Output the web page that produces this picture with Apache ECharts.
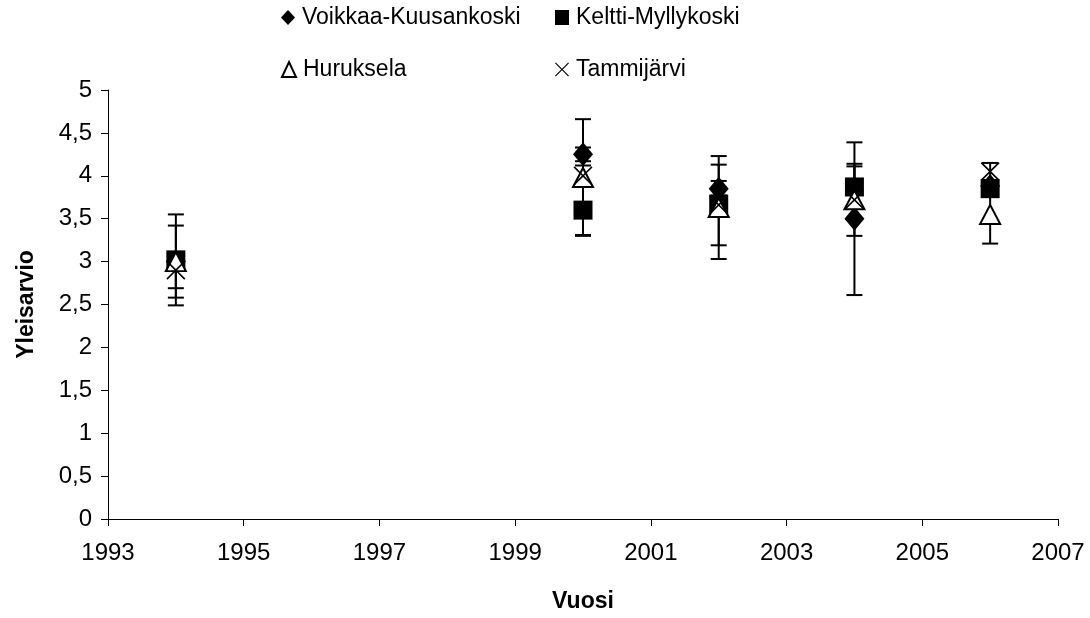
<!DOCTYPE html>
<html><head><meta charset="utf-8">
<script src="https://cdn.jsdelivr.net/npm/echarts@6/dist/echarts.min.js"></script>
<style>html,body{margin:0;padding:0;background:#fff}#c{width:1090px;height:618px}</style>
</head><body><div id="c"></div>
<script>
const years = [1994, 2000, 2002, 2004, 2006];
const xTicks = [1993, 1995, 1997, 1999, 2001, 2003, 2005, 2007];
const seriesNames = ['Voikkaa-Kuusankoski', 'Keltti-Myllykoski', 'Huruksela', 'Tammijärvi'];
const voikkaa = [3.0, 4.25, 3.85, 3.5, 3.88];
const voikkaaErr = [0.1, 0.08, 0.09, 0.89, 0.05];
const keltti = [3.02, 3.6, 3.67, 3.87, 3.85];
const kelttiErr = [0.53, 0.29, 0.1, 0.24, 0.08];
const huruksela = [3.0, 3.98, 3.63, 3.72, 3.55];
const hurukselaErr = [0.42, 0.68, 0.6, 0.42, 0.34];
const tammijarvi = [2.9, 4.0, 3.66, 3.72, 4.05];
const tammijarviErr = [0.21, 0.12, 0.47, 0.1, 0.1];

const FONT = '"Liberation Sans", Arial, sans-serif';
const X_PATH = 'path://M0,6L6,0L50,44L94,0L100,6L56,50L100,94L94,100L50,56L6,100L0,94L44,50Z';

function pts(vals) { return years.map((y, i) => [y, vals[i]]); }
function errData(vals, errs) { return years.map((y, i) => [y, vals[i] - errs[i], vals[i] + errs[i]]); }

function errSeries(vals, errs) {
  return {
    type: 'custom', z: 1, silent: true, animation: false,
    data: errData(vals, errs),
    renderItem: function (params, api) {
      const x = api.value(0);
      const lo = api.coord([x, api.value(1)]);
      const hi = api.coord([x, api.value(2)]);
      const hw = 8;
      const st = { stroke: '#000', lineWidth: 2 };
      return { type: 'group', children: [
        { type: 'line', shape: { x1: lo[0], y1: lo[1], x2: hi[0], y2: hi[1] }, style: st },
        { type: 'line', shape: { x1: lo[0] - hw, y1: lo[1], x2: lo[0] + hw, y2: lo[1] }, style: st },
        { type: 'line', shape: { x1: hi[0] - hw, y1: hi[1], x2: hi[0] + hw, y2: hi[1] }, style: st }
      ]};
    }
  };
}

function scatter(name, vals, symbol, size, style, z) {
  return {
    type: 'scatter', name: name, z: z, symbol: symbol, symbolSize: size,
    data: pts(vals), itemStyle: Object.assign({ opacity: 1 }, style),
    emphasis: { disabled: true }, animation: false
  };
}

const chart = echarts.init(document.getElementById('c'));
const legendBase = {
  itemWidth: 14, itemHeight: 15, itemGap: 0, padding: 0, selectedMode: false,
  textStyle: { fontFamily: FONT, fontSize: 23, color: '#000', padding: [0, 0, 0, 2] }
};
chart.setOption({
  backgroundColor: '#fff',
  animation: false,
  legend: [
    Object.assign({ data: [seriesNames[0]], left: 281, top: 6 }, legendBase),
    Object.assign({ data: [seriesNames[1]], left: 555, top: 6 }, legendBase),
    Object.assign({ data: [seriesNames[2]], left: 281, top: 58 }, legendBase),
    Object.assign({ data: [seriesNames[3]], left: 555, top: 58 }, legendBase)
  ],
  grid: { left: 108, right: 32, top: 90, bottom: 95 },
  xAxis: {
    type: 'value', min: 1993, max: 2007,
    name: 'Vuosi', nameLocation: 'middle', nameGap: 71,
    nameTextStyle: { fontFamily: FONT, fontSize: 23, fontWeight: 'bold', color: '#000' },
    axisLine: { show: true, onZero: false, lineStyle: { color: '#000', width: 1 } },
    axisTick: { show: true, length: 7, customValues: xTicks, lineStyle: { color: '#000' } },
    axisLabel: { customValues: xTicks, fontFamily: FONT, fontSize: 24, color: '#000', margin: 22,
      formatter: v => String(v) },
    splitLine: { show: false }
  },
  yAxis: {
    type: 'value', min: 0, max: 5, interval: 0.5,
    name: 'Yleisarvio', nameLocation: 'middle', nameGap: 70,
    nameTextStyle: { fontFamily: FONT, fontSize: 23, fontWeight: 'bold', color: '#000' },
    axisLine: { show: true, lineStyle: { color: '#000', width: 1 } },
    axisTick: { show: true, length: 7, lineStyle: { color: '#000' } },
    axisLabel: { fontFamily: FONT, fontSize: 24, color: '#000', margin: 16,
      formatter: v => String(v).replace('.', ',') },
    splitLine: { show: false }
  },
  series: [
    errSeries(voikkaa, voikkaaErr),
    errSeries(keltti, kelttiErr),
    errSeries(huruksela, hurukselaErr),
    errSeries(tammijarvi, tammijarviErr),
    scatter(seriesNames[0], voikkaa, 'diamond', [20, 24], { color: '#000' }, 2),
    scatter(seriesNames[1], keltti, 'rect', [19, 19], { color: '#000' }, 3),
    scatter(seriesNames[2], huruksela, 'triangle', [20, 19], { color: '#fff', borderColor: '#000', borderWidth: 2 }, 4),
    scatter(seriesNames[3], tammijarvi, X_PATH, [19, 19], { color: '#000' }, 5)
  ]
});
</script>
</body></html>
